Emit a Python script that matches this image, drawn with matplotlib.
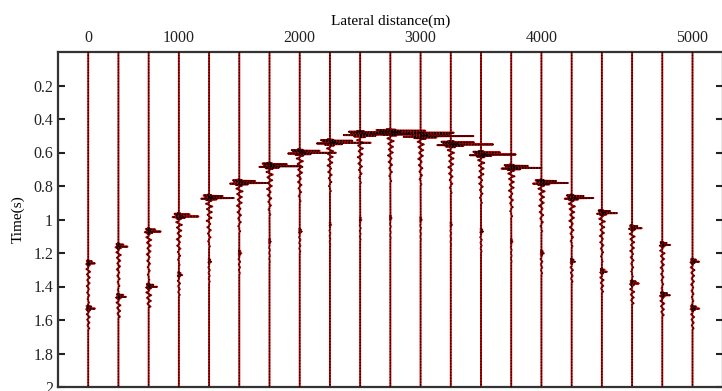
import numpy as np
import matplotlib
matplotlib.use("Agg")
import matplotlib.pyplot as plt

plt.rcParams['font.family'] = ['Liberation Serif', 'DejaVu Serif']

# ---- data ----
trace_index = list(range(21))
xtick_pos = [0, 3, 7, 11, 15, 20]
xtick_labels = ['0', '1000', '2000', '3000', '4000', '5000']
ytick_vals = [0.2, 0.4, 0.6, 0.8, 1.0, 1.2, 1.4, 1.6, 1.8, 2.0]
ytick_labels = ['0.2', '0.4', '0.6', '0.8', '1', '1.2', '1.4', '1.6', '1.8', '2']

# primary reflection (time in s, amplitude in trace spacings)
main_times = [1.26, 1.16, 1.07, 0.98, 0.87, 0.78, 0.68, 0.60, 0.54, 0.49, 0.48,
              0.50, 0.55, 0.61, 0.69, 0.78, 0.87, 0.96, 1.05, 1.15, 1.25]
main_amps = [0.22, 0.30, 0.40, 0.65, 0.82, 0.95, 1.05, 1.20, 1.35, 1.70, 2.10,
             1.75, 1.40, 1.15, 1.00, 0.88, 0.72, 0.50, 0.32, 0.26, 0.22]
# secondary (later) event per trace
sec_times = [1.53, 1.46, 1.40, 1.33, 1.25, 1.20, 1.13, 1.07, 1.03, 1.00, 0.99,
             1.00, 1.03, 1.07, 1.13, 1.20, 1.25, 1.31, 1.38, 1.45, 1.53]
sec_amps = [0.16, 0.18, 0.20, 0.08, 0.05, 0.05, 0.03, 0.05, 0.03, 0.03, 0.03,
            0.03, 0.03, 0.05, 0.03, 0.06, 0.08, 0.12, 0.16, 0.18, 0.16]
coda_scale = [0.6, 0.7, 0.8, 0.9, 1.0, 1.0, 1.0, 1.0, 1.0, 1.0, 1.0,
              1.0, 1.0, 1.0, 1.0, 1.0, 1.0, 0.9, 0.8, 0.7, 0.6]

# wavelet sample values (dt = 2 ms)
wavelet = [0.0, -0.06, 0.08, -0.22, 0.0, 0.55, 0.0, -0.18, 0.0, 0.15,
           0.0, 1.0, 0.0, -0.32, 0.0, 0.30, 0.0, -0.12, 0.0, 0.10, 0.0]
# ringing after each event: (offset s, amplitude)
coda_offsets = [0.036, 0.052, 0.068, 0.086, 0.102, 0.120, 0.138, 0.156,
                0.176, 0.194, 0.214, 0.236, 0.260, 0.290]
coda_amps = [-0.10, 0.11, -0.07, 0.09, -0.05, 0.08, -0.08, 0.04,
             -0.06, 0.06, -0.04, 0.05, -0.035, 0.03]
pulse = [0.3, 0.7, 1.0, 0.7, 0.3]

dt = 0.002
t = np.arange(0, 2.0 + dt / 2, dt)
n = len(t)


def add(tr, t0, amp, shape):
    i0 = int(round(t0 / dt)) - len(shape) // 2
    for k, v in enumerate(shape):
        j = i0 + k
        if 0 <= j < n:
            tr[j] += amp * v


fig = plt.figure(figsize=(7.22, 3.91), dpi=100)
ax = fig.add_axes([58 / 722, 1 - 387 / 391, 1 - 58 / 722 + 0.001, (387 - 52) / 391])

for i in trace_index:
    tr = np.zeros(n)
    add(tr, main_times[i], main_amps[i], wavelet)
    for off, a in zip(coda_offsets, coda_amps):
        add(tr, main_times[i] + off, a * coda_scale[i], pulse)
    add(tr, sec_times[i], sec_amps[i], [v * 1.4 for v in wavelet])
    for off, a in zip(coda_offsets[:6], coda_amps[:6]):
        add(tr, sec_times[i] + off, a * sec_amps[i] * 5 * coda_scale[i], pulse)
    x = i + tr
    ax.plot(x, t, color='#c00000', lw=1.4, zorder=2)
    ax.plot(x, t, color='black', lw=0.9, linestyle=(0, (1, 1.3)), zorder=3)

ax.set_xlim(-1, 21)
ax.set_ylim(2, 0)
ax.xaxis.tick_top()
ax.xaxis.set_label_position('top')
ax.set_xticks(xtick_pos)
ax.set_xticklabels(xtick_labels)
ax.set_yticks(ytick_vals)
ax.set_yticklabels(ytick_labels)
ax.tick_params(axis='both', direction='in', length=5, width=1.5, labelsize=11.5,
               colors='#222222', right=True, top=True, bottom=False)
ax.tick_params(axis='x', length=0, pad=4)
ax.set_xlabel('Lateral distance(m)', fontsize=11, labelpad=4)
ax.set_ylabel('Time(s)', fontsize=11, labelpad=6)
for s in ax.spines.values():
    s.set_linewidth(1.6)
    s.set_color('#333333')

fig.savefig('out.png', dpi=100)
